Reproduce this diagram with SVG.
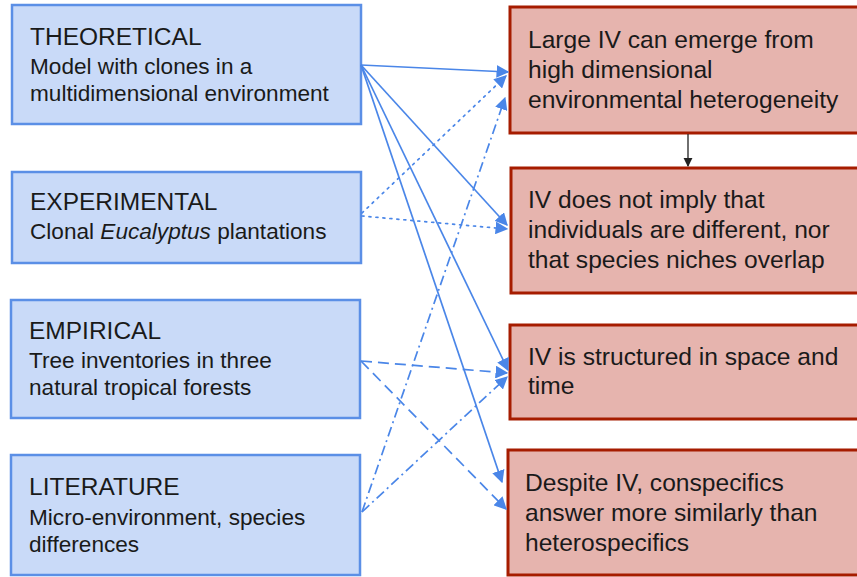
<svg xmlns="http://www.w3.org/2000/svg" width="857" height="577" viewBox="0 0 857 577">
<style>
.lb{fill:#c9daf8;stroke:#5b8fe6;stroke-width:2.5}
.rb{fill:#e6b4ae;stroke:#a61c00;stroke-width:3}
text{font-family:"Liberation Sans",Arial,sans-serif;fill:#1a1a1a}
.lt{font-size:24.5px}
.ls{font-size:22.6px}
.rt{font-size:24.6px}
.c{fill:none;stroke:#4a86e8;stroke-width:1.7;marker-end:url(#ah)}
.dot{stroke-dasharray:2 5;stroke-linecap:round}
.dash{stroke-dasharray:11 6}
.dd{stroke-dasharray:10 4 2 4}
</style>
<defs>
<marker id="ah" viewBox="0 0 10 10" refX="9" refY="5" markerWidth="7.5" markerHeight="7.5" markerUnits="strokeWidth" orient="auto">
<path d="M0,0 L10,5 L0,10 z" fill="#4a86e8"/>
</marker>
<marker id="bk" viewBox="0 0 10 10" refX="9" refY="5" markerWidth="7" markerHeight="7" markerUnits="strokeWidth" orient="auto">
<path d="M0,0 L10,5 L0,10 z" fill="#222"/>
</marker>
</defs>
<rect width="857" height="577" fill="#fff"/>
<g id="n-theoretical">
<rect class="lb" x="12" y="5" width="349" height="119"/>
<text class="lt" x="30" y="45">THEORETICAL</text>
<text class="ls" x="30" y="74">Model with clones in a</text>
<text class="ls" x="30" y="101">multidimensional environment</text>
</g>
<g id="n-experimental">
<rect class="lb" x="12" y="172" width="349" height="91"/>
<text class="lt" x="30" y="210">EXPERIMENTAL</text>
<text class="ls" x="30" y="239">Clonal <tspan font-style="italic">Eucalyptus</tspan> plantations</text>
</g>
<g id="n-empirical">
<rect class="lb" x="11" y="300" width="349" height="118"/>
<text class="lt" x="29" y="339">EMPIRICAL</text>
<text class="ls" x="29" y="368">Tree inventories in three</text>
<text class="ls" x="29" y="395">natural tropical forests</text>
</g>
<g id="n-literature">
<rect class="lb" x="11" y="455" width="349" height="120"/>
<text class="lt" x="29" y="495">LITERATURE</text>
<text class="ls" x="29" y="525">Micro-environment, species</text>
<text class="ls" x="29" y="552">differences</text>
</g>
<g id="n-large-iv">
<rect class="rb" x="510" y="7" width="350" height="126"/>
<text class="rt" x="528" y="48">Large IV can emerge from</text>
<text class="rt" x="528" y="78">high dimensional</text>
<text class="rt" x="528" y="108">environmental heterogeneity</text>
</g>
<g id="n-not-imply">
<rect class="rb" x="511" y="168" width="350" height="125"/>
<text class="rt" x="528" y="208">IV does not imply that</text>
<text class="rt" x="528" y="238">individuals are different, nor</text>
<text class="rt" x="528" y="268">that species niches overlap</text>
</g>
<g id="n-structured">
<rect class="rb" x="510" y="325" width="350" height="94"/>
<text class="rt" x="528" y="365">IV is structured in space and</text>
<text class="rt" x="528" y="394">time</text>
</g>
<g id="n-despite">
<rect class="rb" x="508" y="450" width="352" height="125"/>
<text class="rt" x="525" y="491">Despite IV, conspecifics</text>
<text class="rt" x="525" y="521">answer more similarly than</text>
<text class="rt" x="525" y="551">heterospecifics</text>
</g>
<g id="connectors">
<line class="c" x1="361" y1="65" x2="508" y2="72"/>
<line class="c" x1="361" y1="65" x2="507" y2="225"/>
<line class="c" x1="361" y1="65" x2="508" y2="370"/>
<line class="c" x1="361" y1="65" x2="502" y2="482"/>
<line class="c dot" x1="362" y1="213" x2="506" y2="76"/>
<line class="c dot" x1="362" y1="216" x2="507" y2="229"/>
<line class="c dash" x1="361" y1="361" x2="507" y2="373"/>
<line class="c dash" x1="361" y1="361" x2="506" y2="509"/>
<line class="c dd" x1="362" y1="512" x2="505" y2="98"/>
<line class="c dd" x1="362" y1="512" x2="507" y2="377"/>
<line fill="none" stroke="#222" stroke-width="1.3" marker-end="url(#bk)" x1="688" y1="134" x2="688" y2="166"/>
</g>
</svg>
